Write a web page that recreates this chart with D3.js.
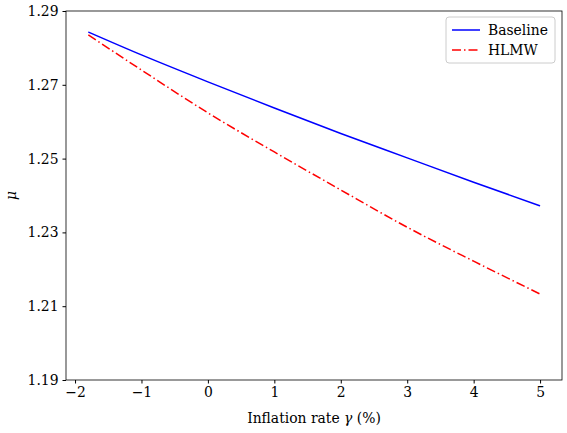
<!DOCTYPE html>
<html><head><meta charset="utf-8">
<script src="https://cdn.jsdelivr.net/npm/d3@7"></script>
<style>body{margin:0;background:#fff}text{font-family:"DejaVu Serif",serif}</style>
</head><body><div id="chart"></div>
<script>
const xs = [-1.8, -1, 0, 1, 2, 3, 4, 5];
const baseline = [1.2843, 1.2781, 1.2708, 1.2637, 1.2568, 1.2502, 1.2436, 1.2372];
const hlmw = [1.2835, 1.2740, 1.2624, 1.2518, 1.2415, 1.2314, 1.2222, 1.2133];
const xTicks = [-2, -1, 0, 1, 2, 3, 4, 5];
const yTicks = [1.19, 1.21, 1.23, 1.25, 1.27, 1.29];

const FS = 13.9;
const W = 567, H = 433, m = {l:66, r:5, t:11, b:53};
const svg = d3.select('#chart').append('svg').attr('width', W).attr('height', H);
const x = d3.scaleLinear().domain([-2.136, 5.33]).range([m.l, W - m.r]);
const y = d3.scaleLinear().domain([1.19, 1.29]).range([H - m.b, m.t]);

const line = d3.line().x((d, i) => x(xs[i])).y(d => y(d)).curve(d3.curveMonotoneX);
svg.append('path').datum(baseline).attr('d', line).attr('fill', 'none').attr('stroke', '#0000ff').attr('stroke-width', 1.5);
svg.append('path').datum(hlmw).attr('d', line).attr('fill', 'none').attr('stroke', '#ff0000').attr('stroke-width', 1.5).attr('stroke-dasharray', '9,3,1.5,3');

const fmtX = d => d < 0 ? '\u2212' + Math.abs(d) : d;
svg.append('g').attr('transform', `translate(0,${H - m.b})`)
  .call(d3.axisBottom(x).tickValues(xTicks).tickFormat(fmtX).tickSizeOuter(0).tickSize(3.5).tickPadding(4))
  .call(g => g.selectAll('text').attr('font-size', FS).attr('fill', '#000'));
svg.append('g').attr('transform', `translate(${m.l},0)`)
  .call(d3.axisLeft(y).tickValues(yTicks).tickFormat(d3.format('.2f')).tickSizeOuter(0).tickSize(3.5).tickPadding(4))
  .call(g => g.selectAll('text').attr('font-size', FS).attr('fill', '#000'));
svg.selectAll('.domain').remove();
svg.append('rect').attr('x', m.l).attr('y', m.t).attr('width', W - m.r - m.l).attr('height', H - m.b - m.t)
  .attr('fill', 'none').attr('stroke', '#000').attr('stroke-width', 0.8);

svg.append('text').attr('x', (m.l + W - m.r) / 2).attr('y', 423).attr('text-anchor', 'middle').attr('font-size', FS)
  .html('Inflation rate <tspan font-style="italic">γ</tspan> (%)');
svg.append('text').attr('transform', `translate(16,${(m.t + H - m.b) / 2}) rotate(-90)`).attr('text-anchor', 'middle')
  .attr('font-size', FS).attr('font-style', 'italic').text('μ');

const lg = svg.append('g').attr('transform', 'translate(446,17)');
lg.append('rect').attr('width', 109).attr('height', 46).attr('rx', 3).attr('fill', '#fff').attr('stroke', '#ccc');
const items = [['Baseline', '#0000ff', null], ['HLMW', '#ff0000', '9,3,1.5,3']];
items.forEach((it, i) => {
  const yy = 13 + i * 20;
  lg.append('line').attr('x1', 6).attr('x2', 34).attr('y1', yy).attr('y2', yy).attr('stroke', it[1]).attr('stroke-width', 1.5).attr('stroke-dasharray', it[2]);
  lg.append('text').attr('x', 42).attr('y', yy + 5).attr('font-size', FS).text(it[0]);
});
</script></body></html>
